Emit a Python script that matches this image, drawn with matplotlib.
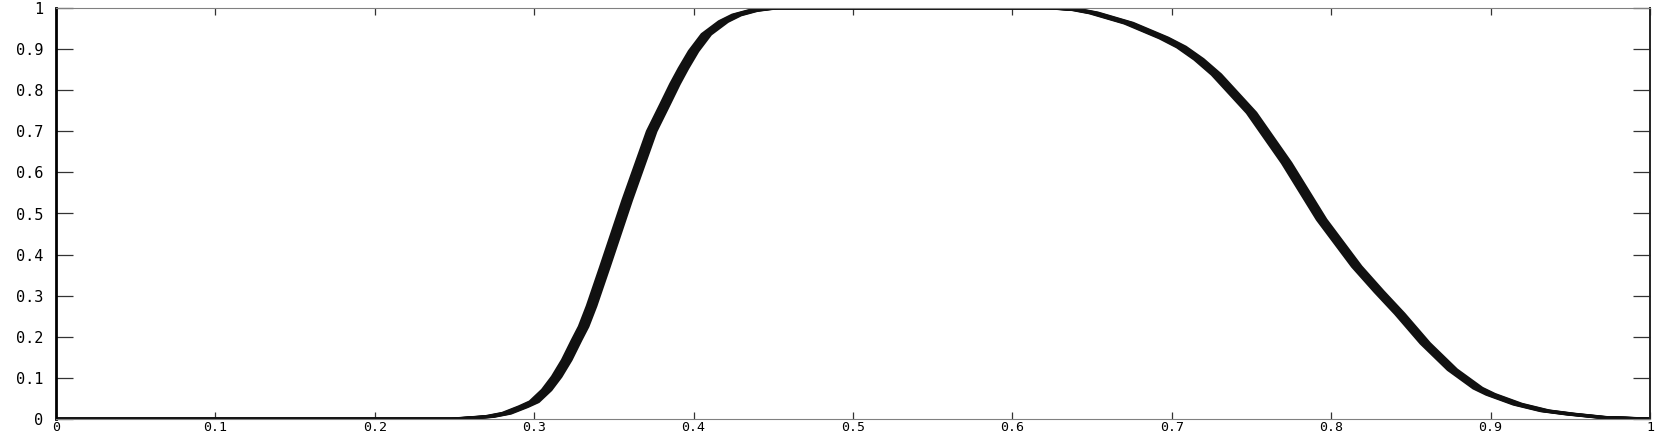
import numpy as np
import matplotlib
matplotlib.use('Agg')
import matplotlib.pyplot as plt

# curve (band centre)
rise_x = [0.0, 0.25, 0.272, 0.2827, 0.2932, 0.300, 0.3078, 0.3141, 0.3204, 0.3266,
          0.331, 0.336, 0.3444, 0.3584, 0.3737, 0.382, 0.3883, 0.3936, 0.400,
          0.408, 0.4187, 0.427, 0.4375, 0.45]
rise_y = [0.0, 0.0, 0.006, 0.014, 0.030, 0.042, 0.0706, 0.103, 0.1435, 0.192,
          0.225, 0.275, 0.3706, 0.533, 0.700, 0.765, 0.815, 0.853, 0.895,
          0.936, 0.967, 0.983, 0.994, 1.0]

fall_x = [0.625, 0.640, 0.651, 0.673, 0.695, 0.706, 0.717, 0.728, 0.750, 0.772,
          0.794, 0.816, 0.830, 0.843, 0.859, 0.876, 0.892, 0.900, 0.917, 0.934,
          0.950, 0.970, 1.0]
fall_y = [1.0, 0.996, 0.988, 0.963, 0.927, 0.905, 0.875, 0.838, 0.745, 0.623,
          0.485, 0.371, 0.310, 0.256, 0.184, 0.120, 0.075, 0.060, 0.036, 0.020,
          0.012, 0.004, 0.0]

tick_vals = [0, 0.1, 0.2, 0.3, 0.4, 0.5, 0.6, 0.7, 0.8, 0.9, 1]
tick_labels = ['0', '0.1', '0.2', '0.3', '0.4', '0.5', '0.6', '0.7', '0.8', '0.9', '1']

x = np.array(rise_x + fall_x)
y = np.array(rise_y + fall_y)

fig = plt.figure(figsize=(16.61, 4.36), dpi=100)
ax = fig.add_axes([56 / 1661, 17 / 436, 1594 / 1661, 411 / 436])

# the trace is a band: same curve drawn with small horizontal offsets
for s in np.linspace(-0.0028, 0.0028, 7):
    ax.plot(x + s, y, color='#111111', lw=2.0, solid_joinstyle='round')

ax.set_xlim(0, 1)
ax.set_ylim(0, 1)
ax.set_xticks(tick_vals)
ax.set_xticklabels(tick_labels)
ax.set_yticks(tick_vals)
ax.set_yticklabels(tick_labels)

ax.tick_params(axis='x', direction='in', length=5, width=0.9, color='#333333',
               top=True, bottom=True, pad=1.5, labelsize=9.5)
ax.tick_params(axis='y', direction='in', length=12, width=0.9, color='#333333',
               left=True, right=True, pad=9, labelsize=11)
for lab in ax.get_xticklabels() + ax.get_yticklabels():
    lab.set_fontfamily('DejaVu Sans Mono')

ax.spines['top'].set_color('#808080')
ax.spines['bottom'].set_color('#808080')
ax.spines['right'].set_color('#222222')
ax.spines['left'].set_color('#000000')
ax.spines['left'].set_linewidth(2)
ax.spines['right'].set_linewidth(1.4)

fig.savefig('out.png', dpi=100)
